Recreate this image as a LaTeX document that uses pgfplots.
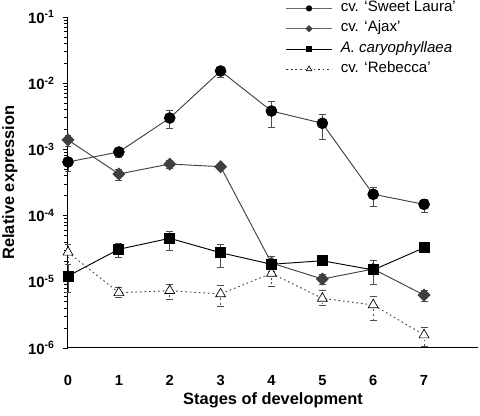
\documentclass[border=0pt]{standalone}
\usepackage{fontspec}
\setmainfont{Liberation Sans}
\usepackage{pgfplots}
\pgfplotsset{compat=1.18}
\begin{document}
\begin{tikzpicture}
\begin{axis}[
  name=ax,
  scale only axis,
  width=307.5pt, height=248.25pt,
  ymode=log,
  xmin=0, xmax=8.06,
  ymin=1e-6, ymax=1e-1,
  axis x line=bottom, axis y line=left,
  axis line style={-, black, line width=0.75pt},
  clip=false,
  xtick={0,1,2,3,4,5,6,7},
  xticklabels={0,1,2,3,4,5,6,7},
  xtick style={draw=none},
  xticklabel style={font=\fontsize{11}{13}\selectfont\bfseries, yshift=-13.5pt},
  ytick={1e-6,1e-5,1e-4,1e-3,1e-2,1e-1},
  yticklabels={10\textsuperscript{-6},10\textsuperscript{-5},10\textsuperscript{-4},10\textsuperscript{-3},10\textsuperscript{-2},10\textsuperscript{-1}},
  yticklabel style={font=\fontsize{11.2}{13}\selectfont\bfseries, xshift=-3pt},
  minor ytick={},
  tick align=outside,
  major tick length=3.5pt,
  ytick style={black, line width=0.6pt},
  xlabel={Stages of development},
  ylabel={Relative expression},
  xlabel style={font=\fontsize{12.3}{14}\selectfont\bfseries, at={(axis description cs:0.5,-0.157)}, anchor=center},
  ylabel style={font=\fontsize{12.3}{14}\selectfont\bfseries, at={(axis description cs:-0.1415,0.5)}, anchor=center, rotate=0},
  legend style={at={(axis description cs:0.531,1.051)}, anchor=north west, draw=none, fill=none,
    font=\fontsize{11.3}{13}\selectfont, row sep=3.2pt, column sep=5.5pt, inner sep=0pt,
    nodes={inner sep=1pt, text depth=0.25em, text height=0.75em}},
  legend cell align=left,
  legend image code/.code={
    \draw[mark repeat=2,mark phase=2,#1] plot coordinates {(0pt,0pt) (17pt,0pt) (34pt,0pt)};
  },
  error bars/y dir=both, error bars/y explicit,
  error bars/error bar style={black!70, line width=0.6pt},
  error bars/error mark options={rotate=90, black!70, mark size=2.6pt, line width=0.6pt},
]
% legend entries
\addlegendimage{black!60, line width=0.6pt, mark=*, mark size=2pt, mark options={black, fill=black}}
\addlegendentry{cv. ‘Sweet Laura’}
\addlegendimage{black!60, line width=0.6pt, mark=square*, mark size=1.6pt, mark options={rotate=45, black!75, fill=black!75}}
\addlegendentry{cv. ‘Ajax’}
\addlegendimage{black, line width=0.6pt, mark=square*, mark size=2pt, mark options={black, fill=black}}
\addlegendentry{\textit{A. caryophyllaea}}
\addlegendimage{black!80, line width=0.6pt, dash pattern=on 1.2pt off 2.2pt, mark=triangle*, mark size=2.4pt, mark options={solid, black, fill=white, line width=0.5pt}}
\addlegendentry{cv. ‘Rebecca’}

% cv. Rebecca
\addplot[forget plot, black!75, line width=0.7pt, dash pattern=on 1.2pt off 2.2pt,
  mark=triangle*, mark size=4.3pt, mark options={solid, black, fill=white, line width=0.5pt}]
coordinates {
 (0,2.79e-5) += (0,0.93e-5) -= (0,0.99e-5)
 (1,6.84e-6) += (0,1.4e-6) -= (0,1.0e-6)
 (2,7.34e-6) += (0,1.9e-6) -= (0,1.84e-6)
 (3,6.55e-6) += (0,2.4e-6) -= (0,2.25e-6)
 (4,1.34e-5) += (0,0.5e-5) -= (0,0.5e-5)
 (5,5.62e-6) += (0,1.7e-6) -= (0,1.26e-6)
 (6,4.47e-6) += (0,1.5e-6) -= (0,1.9e-6)
 (7,1.57e-6) += (0,0.49e-6) -= (0,0.53e-6)
};
% cv. Ajax
\addplot[forget plot, black!75, line width=0.7pt,
  mark=square*, mark size=3.1pt, mark options={rotate=45, black!75, fill=black!75}]
coordinates {
 (0,1.39e-3) += (0,0.26e-3) -= (0,0.27e-3)
 (1,4.25e-4) += (0,0.8e-4) -= (0,0.8e-4)
 (2,6.01e-4) += (0,0.74e-4) -= (0,0.77e-4)
 (3,5.48e-4) += (0,0.3e-4) -= (0,0.3e-4)
 (4,1.92e-5) += (0,0.2e-5) -= (0,0.2e-5)
 (5,1.10e-5) += (0,0.2e-5) -= (0,0.18e-5)
 (6,1.56e-5) += (0,0.15e-5) -= (0,0.15e-5)
 (7,6.3e-6) += (0,1.2e-6) -= (0,1.2e-6)
};
% A. caryophyllaea
\addplot[forget plot, black, line width=0.7pt,
  mark=square*, mark size=3.75pt, mark options={black, fill=black}]
coordinates {
 (0,1.22e-5) += (0,0.58e-5) -= (0,0.53e-5)
 (1,3.10e-5) += (0,0.76e-5) -= (0,0.79e-5)
 (2,4.54e-5) += (0,1.3e-5) -= (0,1.52e-5)
 (3,2.75e-5) += (0,0.97e-5) -= (0,1.09e-5)
 (4,1.84e-5) += (0,0.56e-5) -= (0,0.4e-5)
 (5,2.08e-5) += (0,0.2e-5) -= (0,0.2e-5)
 (6,1.51e-5) += (0,0.62e-5) -= (0,0.6e-5)
 (7,3.27e-5) += (0,0.2e-5) -= (0,0.2e-5)
};
% cv. Sweet Laura
\addplot[forget plot, black!75, line width=0.7pt,
  mark=*, mark size=4pt, mark options={black, fill=black}]
coordinates {
 (0,6.46e-4) += (0,0.8e-4) -= (0,1.74e-4)
 (1,9.14e-4) += (0,1.0e-4) -= (0,1.5e-4)
 (2,2.98e-3) += (0,0.96e-3) -= (0,0.88e-3)
 (3,1.53e-2) += (0,2.3e-3) -= (0,2.9e-3)
 (4,3.80e-3) += (0,1.46e-3) -= (0,1.67e-3)
 (5,2.48e-3) += (0,0.95e-3) -= (0,1.04e-3)
 (6,2.10e-4) += (0,0.57e-4) -= (0,0.72e-4)
 (7,1.48e-4) += (0,0.3e-4) -= (0,0.35e-4)
};
\end{axis}
\pgfresetboundingbox
\path ([xshift=-51pt,yshift=-51pt]ax.south west) rectangle ([xshift=1.5pt,yshift=12.75pt]ax.north east);
\end{tikzpicture}
\end{document}
